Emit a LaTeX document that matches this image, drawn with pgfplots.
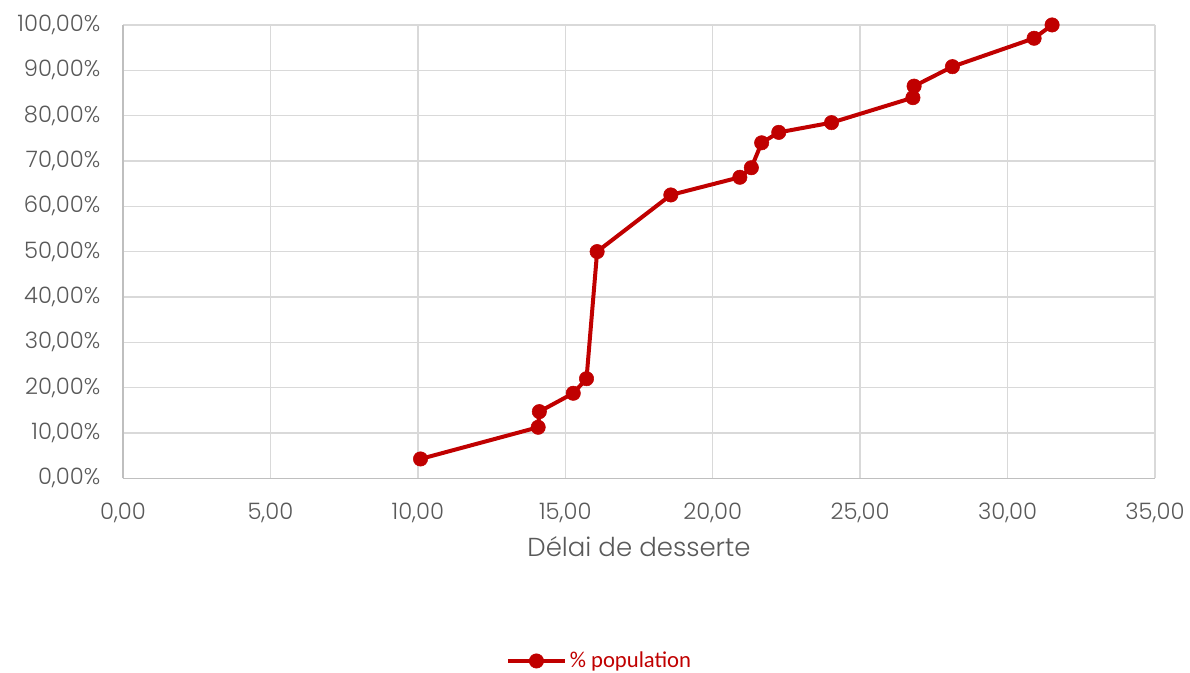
\documentclass[border=0pt]{standalone}
\usepackage{fontspec}
\usepackage{pgfplots}
\pgfplotsset{compat=1.18}
\setmainfont{Poppins Light}
\newfontfamily\legendfont{Carlito}
\definecolor{serie}{HTML}{C00000}
\definecolor{gridc}{HTML}{D9D9D9}
\definecolor{axisc}{HTML}{BFBFBF}
\definecolor{txt}{HTML}{595959}

\pgfplotstableread{
x y
10.09 4.26
14.08 11.25
14.12 14.70
15.27 18.75
15.72 21.97
16.08 50.00
18.58 62.50
20.92 66.40
21.31 68.50
21.66 74.00
22.24 76.30
24.03 78.45
26.79 83.96
26.83 86.50
28.13 90.80
30.90 97.06
31.51 100.00
}\delai

\begin{document}
\begin{tikzpicture}
\path[use as bounding box] (0,0) rectangle (892.5pt,-504pt);
\begin{axis}[
  at={(92.25pt,-358.7pt)}, anchor=south west,
  scale only axis, width=774pt, height=340pt,
  xmin=0, xmax=35, ymin=0, ymax=100,
  xtick={0,5,...,35}, ytick={0,10,...,100},
  grid=major, major grid style={gridc, line width=1.1pt},
  axis line style={axisc, line width=1.1pt},
  axis x line*=bottom, axis y line*=left,
  major tick length=0pt,
  /pgf/number format/assume math mode=true,
  /pgf/number format/.cd, fixed, fixed zerofill, precision=2, use comma, 1000 sep={},
  /pgfplots/.cd,
  yticklabel={\pgfmathprintnumber{\tick}\%},
  tick label style={font=\fontsize{17pt}{20pt}\selectfont, text=txt},
  xticklabel style={yshift=-15pt},
  yticklabel style={xshift=-13.5pt},
  xlabel={Délai de desserte},
  xlabel style={font=\fontsize{19.5pt}{22pt}\selectfont, text=txt, yshift=-3pt},
  legend style={at={(0.462,-0.403)}, anchor=center, draw=none, fill=none,
    font=\legendfont\fontsize{17pt}{20pt}\selectfont, text=serie},
  legend image code/.code={\draw[#1,mark repeat=2,mark phase=2] plot coordinates {(0pt,0pt) (21.5pt,0pt) (43pt,0pt)};},
]
\addplot[serie, line width=3pt, mark=*, mark size=5.4pt, mark options={solid, fill=serie, draw=serie, line width=0.4pt}] table[x=x, y=y] {\delai};
\addlegendentry{\% population}
\end{axis}
\end{tikzpicture}
\end{document}
